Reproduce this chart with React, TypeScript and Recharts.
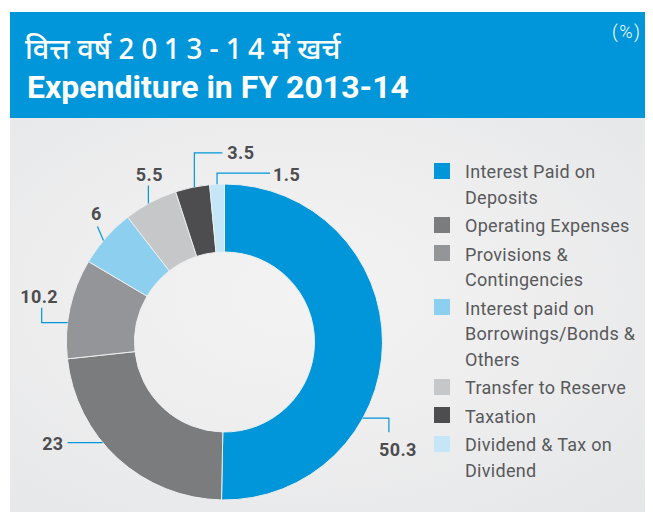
import React from "react";
import { PieChart, Pie, Cell, Legend } from "recharts";

const categories = [
  "Interest Paid on Deposits",
  "Operating Expenses",
  "Provisions & Contingencies",
  "Interest paid on Borrowings/Bonds & Others",
  "Transfer to Reserve",
  "Taxation",
  "Dividend & Tax on Dividend",
];
const values = [50.3, 23, 10.2, 6, 5.5, 3.5, 1.5];
const valueLabels = ["50.3", "23", "10.2", "6", "5.5", "3.5", "1.5"];
const colors = ["#0096D9", "#7B7C7E", "#939598", "#8DCFEF", "#C6C7C9", "#4D4D4F", "#C4E6F7"];

const titleHindiParts = ["वित्त वर्ष", "2013-14", "में खर्च"];
const titleEnglish = "Expenditure in FY 2013-14";
const unitLabel = "(%)";

// leader-line layout per label (relative to attachment point on the ring)
const labelLayout = [
  { angleOffset: -28.3, path: [[26, 0], [26, 14]], text: [35, 38], anchor: "middle" },
  { angleOffset: -8, path: [[-35, 0]], text: [-39, 7], anchor: "end" },
  { angleOffset: 5.2, path: [[-26, 0], [-26, -15]], text: [-28.5, -20], anchor: "middle" },
  { angleOffset: 1.4, path: [[-6, -14]], text: [-7, -20], anchor: "middle" },
  { angleOffset: 0.9, path: [[0, -18]], text: [1, -23], anchor: "middle" },
  { angleOffset: -0.7, path: [[0, -34], [28, -34]], text: [33, -28], anchor: "start" },
  { angleOffset: 0, path: [[0, -11], [53, -11]], text: [56, -3], anchor: "start" },
];

const data = categories.map((name, i) => ({ name, value: values[i] }));

const RAD = Math.PI / 180;

const renderLabel = (props: any) => {
  const { cx, cy, midAngle, outerRadius, index } = props;
  const lay = labelLayout[index];
  const a = (midAngle + lay.angleOffset) * RAD;
  const x0 = cx + outerRadius * Math.cos(-a);
  const y0 = cy + outerRadius * Math.sin(-a);
  const d =
    `M${x0},${y0}` + lay.path.map((p) => ` L${x0 + p[0]},${y0 + p[1]}`).join("");
  return (
    <g key={`lbl-${index}`}>
      <path d={d} stroke="#0096D9" strokeWidth={1.2} fill="none" />
      <text
        x={x0 + lay.text[0]}
        y={y0 + lay.text[1]}
        textAnchor={lay.anchor as any}
        fontFamily="Roboto, 'Noto Sans', sans-serif"
        fontWeight={700}
        fontSize={18}
        letterSpacing={0.4}
        fill="#4D4D4F"
      >
        {valueLabels[index]}
      </text>
    </g>
  );
};

const renderLegend = () => (
  <div style={{ width: 214 }}>
    {categories.map((c, i) => (
      <div key={c} style={{ display: "flex", alignItems: "flex-start", marginBottom: 3 }}>
        <div
          style={{
            width: 16,
            height: 16,
            background: colors[i],
            marginTop: 3.5,
            flexShrink: 0,
          }}
        />
        <div
          style={{
            marginLeft: 15,
            fontFamily: "Roboto, 'Noto Sans', sans-serif",
            fontSize: 18,
            letterSpacing: 0.3,
            lineHeight: "25.5px",
            color: "#58595B",
            width: 180,
          }}
        >
          {c}
        </div>
      </div>
    ))}
  </div>
);

export default function App() {
  return (
    <div style={{ width: 643, marginLeft: 2, marginTop: 4 }}>
      <div
        style={{
          position: "relative",
          height: 106,
          background: "#0096D9",
          color: "#FFFFFF",
          fontFamily: "Roboto, 'Noto Sans', sans-serif",
        }}
      >
        <div
          style={{
            position: "absolute",
            left: 15,
            top: 20,
            fontSize: 29,
            fontWeight: 500,
            lineHeight: "40px",
            whiteSpace: "nowrap",
            fontFamily: "'Noto Sans Devanagari', 'Noto Sans', Roboto, sans-serif",
          }}
        >
          <span>{titleHindiParts[0]} </span>
          <span style={{ letterSpacing: 6.5, marginRight: -6.5 }}>{titleHindiParts[1]}</span>
          <span> {titleHindiParts[2]}</span>
        </div>
        <div
          style={{
            position: "absolute",
            left: 17,
            top: 55,
            fontSize: 32,
            fontWeight: 700,
            lineHeight: "40px",
          }}
        >
          {titleEnglish}
        </div>
        <div
          style={{
            position: "absolute",
            left: 602,
            top: 8,
            fontSize: 18,
            fontWeight: 300,
            letterSpacing: 1.5,
            lineHeight: "24px",
          }}
        >
          {unitLabel}
        </div>
      </div>
      <div
        style={{
          width: 643,
          height: 394,
          background:
            "radial-gradient(ellipse at 45% 45%, #F3F3F3 0%, #EEEEEF 45%, #E5E6E7 100%)",
        }}
      >
        <PieChart width={643} height={394} margin={{ top: 0, right: 0, bottom: 0, left: 0 }}>
          <Pie
            data={data}
            dataKey="value"
            nameKey="name"
            cx={214.5}
            cy={224}
            innerRadius={90}
            outerRadius={158}
            startAngle={90}
            endAngle={-270}
            stroke="#EDEFF0"
            strokeWidth={1}
            label={renderLabel}
            labelLine={false}
            isAnimationActive={false}
          >
            {data.map((d, i) => (
              <Cell key={d.name} fill={colors[i]} />
            ))}
          </Pie>
          <Legend
            layout="vertical"
            align="right"
            verticalAlign="top"
            content={renderLegend}
            wrapperStyle={{ left: 424, top: 41, width: 214 }}
          />
        </PieChart>
      </div>
    </div>
  );
}
